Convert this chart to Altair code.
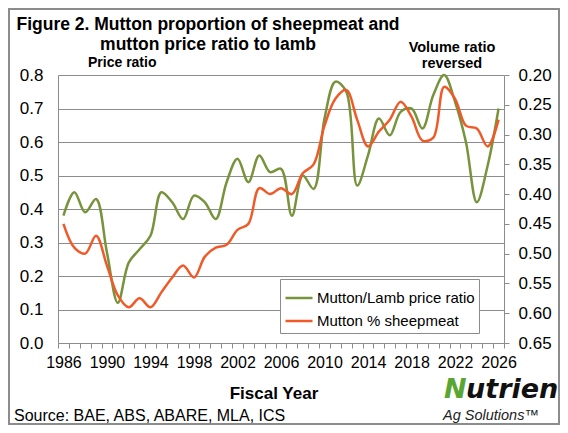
import altair as alt
import pandas as pd

# ---- data ----
years = list(range(1986, 2027))
price_ratio = [0.38, 0.45, 0.39, 0.43, 0.27, 0.12, 0.24, 0.28, 0.32, 0.45,
               0.42, 0.37, 0.44, 0.42, 0.37, 0.48, 0.55, 0.48, 0.56, 0.51,
               0.52, 0.38, 0.50, 0.46, 0.67, 0.78, 0.75, 0.47, 0.56, 0.67,
               0.62, 0.69, 0.70, 0.64, 0.74, 0.80, 0.72, 0.60, 0.42, 0.53,
               0.70]
mutton_share = [0.45, 0.49, 0.50, 0.47, 0.52, 0.57, 0.59, 0.575, 0.59, 0.565,
                0.54, 0.52, 0.54, 0.505, 0.49, 0.485, 0.46, 0.45, 0.39, 0.40,
                0.39, 0.40, 0.365, 0.35, 0.285, 0.24, 0.225, 0.275, 0.32, 0.295,
                0.275, 0.245, 0.27, 0.31, 0.305, 0.22, 0.24, 0.285, 0.29, 0.32,
                0.275]
left_ticks = [0.0, 0.1, 0.2, 0.3, 0.4, 0.5, 0.6, 0.7, 0.8]
right_ticks = [0.20, 0.25, 0.30, 0.35, 0.40, 0.45, 0.50, 0.55, 0.60, 0.65]
series_names = ["Mutton/Lamb price ratio", "Mutton % sheepmeat"]
series_colors = ["#77933C", "#F05A28"]

title_lines = ["Figure 2. Mutton proportion of sheepmeat and", "mutton price ratio to lamb"]
left_note = "Price ratio"
right_note = ["Volume ratio", "reversed"]
x_title = "Fiscal Year"
source = "Source: BAE, ABS, ABARE, MLA, ICS"

FONT = "Liberation Sans"
GRID = "#8c8c8c"

df = pd.DataFrame({"year": years, "price": price_ratio, "share": mutton_share})
one = pd.DataFrame({"k": [0]})

tick_vals = [y - 0.5 for y in years] + [years[-1] + 0.5]

x_enc = alt.X(
    "year:Q",
    scale=alt.Scale(domain=[years[0] - 0.5, years[-1] + 0.5], nice=False, zero=False),
    axis=alt.Axis(
        values=tick_vals,
        labelExpr="((datum.value + 0.5 - 1986) % 4 == 0 && datum.value < 2026) ? '' + (datum.value + 0.5) : ''",
        labelOffset=5.44, tickSize=5, tickColor=GRID, domainColor=GRID,
        grid=False, labelFontSize=16, labelFont=FONT, labelColor="black",
        labelPadding=6, labelOverlap=False, labelFlush=False, labelBound=False,
        title=None,
    ),
)

color_scale = alt.Scale(domain=series_names, range=series_colors)
legend = alt.Legend(
    title=None, orient="none", legendX=222, legendY=204, direction="vertical",
    symbolType="stroke", symbolSize=729, symbolStrokeWidth=2.5,
    labelFontSize=15, labelFont=FONT, labelColor="black",
    strokeColor=GRID, fillColor="white", padding=4, rowPadding=-1, labelOffset=3,
)

green = alt.Chart(df).transform_calculate(series="'" + series_names[0] + "'").mark_line(
    interpolate="catmull-rom", strokeWidth=2.5
).encode(
    x=x_enc,
    y=alt.Y("price:Q", scale=alt.Scale(domain=[0, 0.8], nice=False, zero=True),
            axis=alt.Axis(orient="left", values=left_ticks, format=".1f", grid=True,
                          gridColor=GRID, gridWidth=1, ticks=False, domainColor=GRID,
                          labelFontSize=17, labelFont=FONT, labelColor="black",
                          labelPadding=15, title=None)),
    color=alt.Color("series:N", scale=color_scale, legend=legend),
)

orange = alt.Chart(df).transform_calculate(series="'" + series_names[1] + "'").mark_line(
    interpolate="catmull-rom", strokeWidth=2.5
).encode(
    x=x_enc,
    y=alt.Y("share:Q", scale=alt.Scale(domain=[0.2, 0.65], reverse=True, nice=False, zero=False),
            axis=alt.Axis(orient="right", values=right_ticks, format=".2f", grid=False,
                          tickSize=5, tickColor=GRID, domainColor=GRID,
                          labelFontSize=17, labelFont=FONT, labelColor="black",
                          labelPadding=9, title=None)),
    color=alt.Color("series:N", scale=color_scale, legend=legend),
)


def label(text, x, y, size, weight="normal", align="left", style="normal",
          color="black", font=FONT):
    return alt.Chart(one).mark_text(
        text=text, align=align, baseline="alphabetic", fontSize=size,
        fontWeight=weight, fontStyle=style, font=font, color=color,
    ).encode(x=alt.value(x), y=alt.value(y))


border = alt.Chart(one).mark_rect(
    fillOpacity=0, stroke=GRID, strokeWidth=2
).encode(x=alt.value(-49), x2=alt.value(501), y=alt.value(-66), y2=alt.value(349))

texts = [
    label(title_lines[0], 150, -45, 17.5, "bold", "center"),
    label(title_lines[1], 150, -25.5, 17.5, "bold", "center"),
    label(left_note, 30, -8, 14, "bold"),
    label(right_note[0], 394, -23, 14.5, "bold", "center"),
    label(right_note[1], 394, -7.5, 14.5, "bold", "center"),
    label(x_title, 216, 324, 17, "bold", "center"),
    label(source, -44, 346, 16),
    label("N", 386, 323, 27, "bold", style="italic", font="DejaVu Sans", color="#5aa632"),
    label("utrien", 408, 323, 27, "bold", style="italic", font="DejaVu Sans", color="#111111"),
    label("Ag Solutions\u2122", 385, 345, 14.5, style="italic", color="#222222"),
]

chart = alt.layer(border, green, orange, *texts).resolve_scale(y="independent").properties(
    width=446, height=268,
    padding={"left": 50, "top": 67, "right": 56, "bottom": 82},
    autosize=alt.AutoSizeParams(type="none"),
    background="white",
).configure_view(strokeWidth=0)

chart.save("out.html", embed_options={"renderer": "svg", "actions": False})
